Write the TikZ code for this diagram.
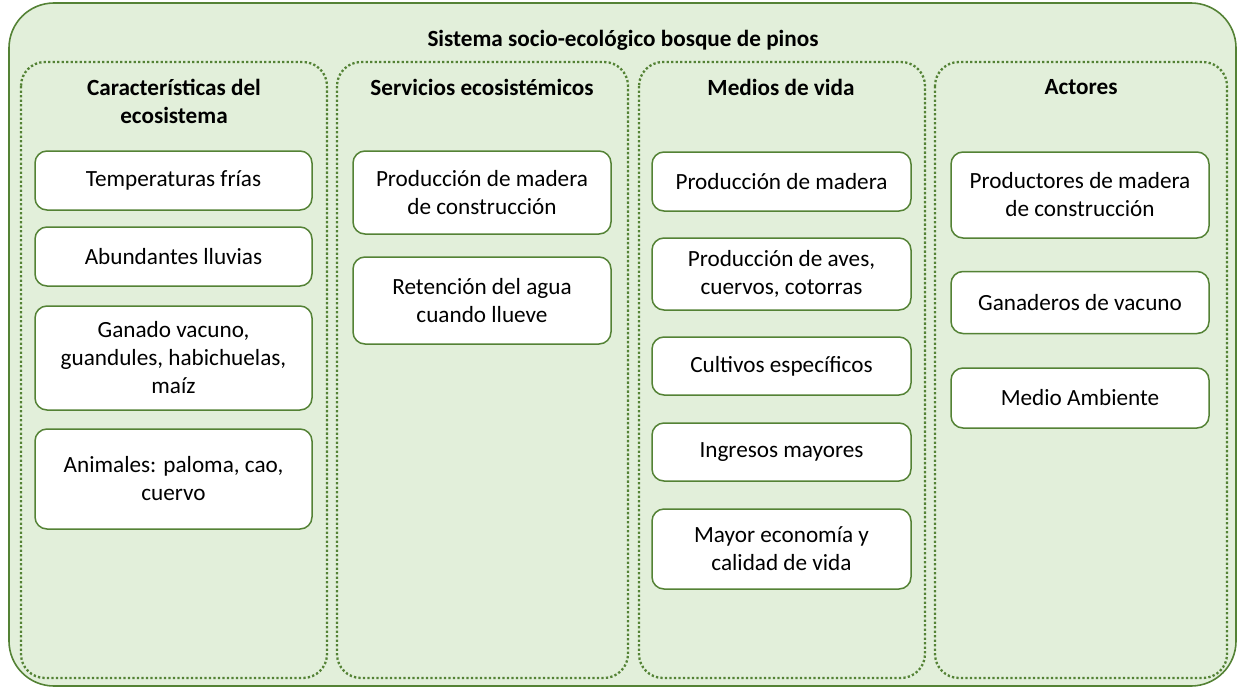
\documentclass[tikz,border=0pt]{standalone}
\usepackage{fontspec}
\setmainfont{Carlito}
\definecolor{fgreen}{HTML}{548235}
\definecolor{lgreen}{HTML}{E2EFDA}
\begin{document}
\begin{tikzpicture}[x=1pt,y=-1pt,
  outerbox/.style={draw=fgreen,fill=lgreen,line width=1.6pt,rounded corners=45pt},
  colbox/.style={draw=fgreen,line width=2.3pt,dash pattern=on 2.3pt off 2.2pt,rounded corners=24pt},
  itembox/.style={draw=fgreen,fill=white,line width=1.5pt,rounded corners=12pt,align=center,inner sep=0pt,
     font=\fontsize{23.2}{28}\selectfont},
  hdr/.style={align=center,font=\fontsize{23.2}{28}\selectfont\bfseries,inner sep=0pt}]
\useasboundingbox (0,0) rectangle (1238,688);
\draw[outerbox] (9,3) rectangle (1236,686);
\node[hdr] (title) at (623,40) {Sistema socio-ecológico bosque de pinos};
% columns
\draw[colbox] (21,62) rectangle (327,678);
\draw[colbox] (337,62) rectangle (628,678);
\draw[colbox] (639,62) rectangle (925,678);
\draw[colbox] (935,62) rectangle (1227,678);
\node[hdr] (h1) at (174,101) {Características del\\ecosistema};
\node[hdr] (h2) at (482,87) {Servicios ecosistémicos};
\node[hdr] (h3) at (781,87) {Medios de vida};
\node[hdr] (h4) at (1081,87) {Actores};
% column 1
\node[itembox,minimum width=277pt,minimum height=59pt] (c1a) at (173.5,180.5) {Temperaturas frías};
\node[itembox,minimum width=277pt,minimum height=59pt] (c1b) at (173.5,256.5) {Abundantes lluvias};
\node[itembox,minimum width=277pt,minimum height=104pt] (c1c) at (173.5,358) {Ganado vacuno,\\guandules, habichuelas,\\maíz};
\node[itembox,minimum width=277pt,minimum height=100pt] (c1d) at (173.5,479) {Animales: paloma, cao,\\cuervo};
% column 2
\node[itembox,minimum width=258pt,minimum height=83pt] (c2a) at (482,192.5) {Producción de madera\\de construcción};
\node[itembox,minimum width=258pt,minimum height=87pt] (c2b) at (482,300.5) {Retención del agua\\cuando llueve};
% column 3
\node[itembox,minimum width=259pt,minimum height=59pt] (c3a) at (781.5,181.5) {Producción de madera};
\node[itembox,minimum width=259pt,minimum height=72pt] (c3b) at (781.5,274) {Producción de aves,\\cuervos, cotorras};
\node[itembox,minimum width=259pt,minimum height=58pt] (c3c) at (781.5,366) {Cultivos específicos};
\node[itembox,minimum width=259pt,minimum height=58pt] (c3d) at (781.5,452) {Ingresos mayores};
\node[itembox,minimum width=259pt,minimum height=80pt] (c3e) at (781.5,549) {Mayor economía y\\calidad de vida};
% column 4
\node[itembox,minimum width=258pt,minimum height=86pt] (c4a) at (1080,195) {Productores de madera\\de construcción};
\node[itembox,minimum width=258pt,minimum height=62pt] (c4b) at (1080,302.5) {Ganaderos de vacuno};
\node[itembox,minimum width=258pt,minimum height=60pt] (c4c) at (1080,398) {Medio Ambiente};
\end{tikzpicture}
\end{document}
